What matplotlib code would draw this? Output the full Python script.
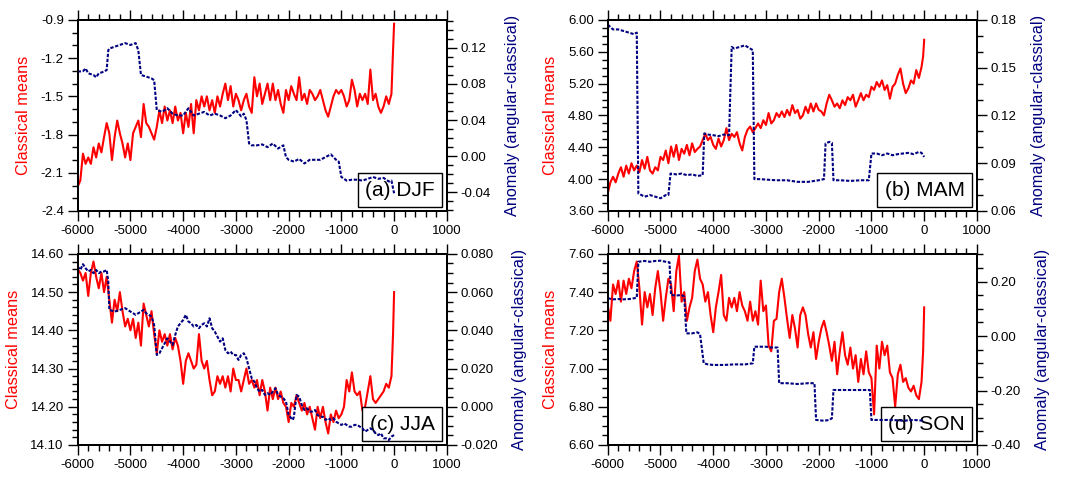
import matplotlib
matplotlib.use('Agg')
import matplotlib.pyplot as plt
import numpy as np
from matplotlib.ticker import MultipleLocator, FormatStrFormatter

plt.rcParams['font.family'] = ['Liberation Sans', 'DejaVu Sans']
plt.rcParams['axes.unicode_minus'] = False

# red "Classical means": every 50 years from -6000 to -50, then -20 and 0
red_years = list(range(-6000, -49, 50)) + [-20, 0]

djf_red = [
    -2.21, -2.16, -1.95, -2.03, -1.98, -2.03, -1.90, -1.98, -1.87, -1.94,
    -1.82, -1.71, -1.79, -2.00, -1.82, -1.69, -1.79, -1.87, -1.98, -1.87,
    -2.00, -1.79, -1.74, -1.69, -1.82, -1.56, -1.71, -1.74, -1.79, -1.84,
    -1.74, -1.61, -1.71, -1.58, -1.69, -1.61, -1.71, -1.58, -1.69, -1.63,
    -1.79, -1.63, -1.74, -1.56, -1.79, -1.53, -1.61, -1.50, -1.58, -1.50,
    -1.61, -1.53, -1.63, -1.50, -1.58, -1.48, -1.40, -1.53, -1.42, -1.58,
    -1.48, -1.53, -1.61, -1.53, -1.48, -1.58, -1.63, -1.35, -1.50, -1.40,
    -1.56, -1.48, -1.40, -1.53, -1.40, -1.53, -1.45, -1.56, -1.63, -1.45,
    -1.53, -1.42, -1.48, -1.53, -1.35, -1.53, -1.48, -1.56, -1.45, -1.48,
    -1.53, -1.50, -1.45, -1.53, -1.61, -1.66, -1.58, -1.50, -1.45, -1.48,
    -1.45, -1.50, -1.58, -1.53, -1.37, -1.45, -1.58, -1.48, -1.53, -1.48,
    -1.56, -1.29, -1.53, -1.48, -1.58, -1.63, -1.58, -1.50, -1.56, -1.48,
    -1.14, -0.93]

mam_red = [
    3.82, 3.96, 4.03, 3.96, 4.07, 4.15, 4.03, 4.17, 4.07, 4.20,
    4.11, 4.17, 4.09, 4.24, 4.13, 4.28, 4.11, 4.07, 4.15, 4.11,
    4.28, 4.24, 4.36, 4.20, 4.41, 4.28, 4.43, 4.24, 4.38, 4.32,
    4.43, 4.30, 4.45, 4.34, 4.38, 4.41, 4.49, 4.57, 4.49, 4.53,
    4.43, 4.38, 4.51, 4.41, 4.49, 4.64, 4.49, 4.57, 4.53, 4.59,
    4.45, 4.36, 4.53, 4.62, 4.66, 4.59, 4.64, 4.70, 4.64, 4.74,
    4.68, 4.83, 4.70, 4.74, 4.83, 4.78, 4.85, 4.78, 4.87, 4.80,
    4.93, 4.83, 4.87, 4.76, 4.80, 4.91, 4.83, 4.95, 4.85, 4.95,
    4.87, 4.85, 4.80, 4.95, 5.06, 4.99, 4.91, 4.95, 4.89, 4.99,
    4.93, 5.03, 4.99, 5.06, 4.91, 4.99, 5.08, 4.99, 5.06, 5.03,
    5.16, 5.12, 5.22, 5.16, 5.24, 5.12, 5.18, 5.01, 5.16, 5.20,
    5.31, 5.39, 5.20, 5.08, 5.14, 5.24, 5.20, 5.37, 5.27, 5.41,
    5.54, 5.75]

jja_red = [
    14.56, 14.55, 14.53, 14.55, 14.49, 14.55, 14.58, 14.54, 14.51, 14.55,
    14.50, 14.54, 14.48, 14.42, 14.48, 14.45, 14.50, 14.45, 14.41, 14.43,
    14.40, 14.43, 14.38, 14.42, 14.36, 14.47, 14.44, 14.41, 14.45, 14.39,
    14.34, 14.40, 14.37, 14.39, 14.36, 14.39, 14.35, 14.38, 14.36, 14.32,
    14.26, 14.32, 14.34, 14.32, 14.30, 14.31, 14.39, 14.32, 14.30, 14.32,
    14.27, 14.23, 14.24, 14.28, 14.26, 14.28, 14.25, 14.28, 14.24, 14.30,
    14.27, 14.27, 14.24, 14.27, 14.30, 14.26, 14.27, 14.25, 14.27, 14.23,
    14.27, 14.24, 14.19, 14.25, 14.22, 14.25, 14.22, 14.24, 14.21, 14.20,
    14.16, 14.21, 14.20, 14.23, 14.21, 14.19, 14.21, 14.18, 14.20, 14.17,
    14.14, 14.20, 14.17, 14.20, 14.16, 14.13, 14.18, 14.16, 14.19, 14.17,
    14.18, 14.20, 14.27, 14.24, 14.29, 14.24, 14.23, 14.24, 14.19, 14.20,
    14.24, 14.28, 14.22, 14.21, 14.22, 14.23, 14.24, 14.26, 14.25, 14.28,
    14.39, 14.50]

son_red = [
    7.33, 7.25, 7.44, 7.39, 7.46, 7.35, 7.46, 7.39, 7.47, 7.42,
    7.51, 7.56, 7.42, 7.23, 7.40, 7.32, 7.39, 7.28, 7.42, 7.51,
    7.40, 7.25, 7.37, 7.47, 7.44, 7.30, 7.51, 7.59, 7.35, 7.40,
    7.25, 7.32, 7.37, 7.51, 7.57, 7.47, 7.44, 7.35, 7.40, 7.28,
    7.19, 7.32, 7.40, 7.49, 7.28, 7.25, 7.37, 7.32, 7.37, 7.30,
    7.40, 7.33, 7.30, 7.25, 7.35, 7.25, 7.30, 7.23, 7.46, 7.30,
    7.33, 7.12, 7.09, 7.25, 7.26, 7.40, 7.47, 7.37, 7.26, 7.16,
    7.28, 7.21, 7.11, 7.28, 7.32, 7.28, 7.18, 7.11, 7.19, 7.05,
    7.14, 7.21, 7.25, 7.19, 7.12, 7.04, 7.14, 6.97, 7.09, 7.19,
    7.07, 7.02, 7.11, 7.00, 7.07, 6.93, 7.05, 6.97, 7.09, 6.98,
    6.95, 6.76, 7.12, 7.00, 7.14, 7.07, 7.12, 6.98, 6.95, 6.80,
    6.97, 7.02, 6.93, 6.95, 6.90, 6.88, 6.91, 6.86, 6.84, 6.93,
    7.09, 7.32]

# blue "Anomaly (angular-classical)"
djf_blue_years = [-6000, -5900, -5850, -5800, -5700, -5650, -5600, -5500, -5450, -5420,
                  -5400, -5300, -5200, -5100, -5000, -4900, -4850, -4800, -4700, -4600,
                  -4550, -4500, -4400, -4300, -4200, -4100, -4000, -3900, -3800, -3700,
                  -3600, -3500, -3400, -3300, -3200, -3100, -3000, -2900, -2850, -2800,
                  -2750, -2700, -2600, -2500, -2400, -2300, -2200, -2100, -2050, -2000,
                  -1900, -1800, -1700, -1600, -1500, -1400, -1300, -1200, -1100, -1050,
                  -1000, -900, -800, -700, -600, -500, -400, -300, -200, -100, -50, 0]
djf_blue = [0.0935, 0.094, 0.097, 0.0916, 0.0898, 0.0872, 0.0916, 0.0935, 0.0953, 0.117,
            0.119, 0.121, 0.123, 0.125, 0.123, 0.125, 0.117, 0.0898, 0.088, 0.086,
            0.084, 0.051, 0.049, 0.053, 0.047, 0.045, 0.045, 0.053, 0.045, 0.047,
            0.049, 0.045, 0.047, 0.045, 0.042, 0.045, 0.051, 0.044, 0.047, 0.040,
            0.014, 0.012, 0.012, 0.013, 0.010, 0.014, 0.0085, 0.012, -0.001, -0.004,
            -0.006, -0.003, -0.008, -0.004, -0.004, -0.004, -0.001, 0.002, -0.004, -0.006,
            -0.023, -0.027, -0.026, -0.026, -0.027, -0.025, -0.023, -0.025, -0.024, -0.028,
            -0.027, -0.041]

mam_blue_years = [-6000, -5900, -5800, -5700, -5600, -5500, -5450, -5420, -5300, -5200,
                  -5100, -5000, -4900, -4850, -4810, -4700, -4600, -4500, -4400, -4300,
                  -4200, -4170, -4100, -4000, -3900, -3800, -3700, -3650, -3600, -3500,
                  -3400, -3300, -3250, -3220, -3100, -3000, -2800, -2600, -2400, -2200,
                  -2000, -1900, -1870, -1800, -1750, -1720, -1600, -1400, -1200, -1050,
                  -1000, -900, -800, -700, -600, -500, -400, -300, -200, -100, -50, 0]
mam_blue = [0.177, 0.174, 0.174, 0.173, 0.172, 0.171, 0.172, 0.071, 0.069, 0.070,
            0.069, 0.068, 0.070, 0.070, 0.0835, 0.083, 0.0835, 0.0825, 0.083, 0.082,
            0.0825, 0.1087, 0.108, 0.1076, 0.107, 0.108, 0.1076, 0.163, 0.162, 0.163,
            0.164, 0.162, 0.161, 0.080, 0.080, 0.0797, 0.0793, 0.0793, 0.0783, 0.0783,
            0.0793, 0.080, 0.1024, 0.1034, 0.1028, 0.0793, 0.0793, 0.0789, 0.0793, 0.0793,
            0.0961, 0.0961, 0.095, 0.0961, 0.095, 0.0957, 0.0961, 0.0965, 0.0957, 0.0971,
            0.0965, 0.094]

jja_blue_years = [-6000, -5950, -5900, -5850, -5800, -5750, -5700, -5650, -5600, -5550,
                  -5500, -5450, -5420, -5400, -5300, -5200, -5100, -5000, -4900, -4800,
                  -4750, -4700, -4600, -4550, -4500, -4450, -4400, -4300, -4250, -4200,
                  -4150, -4100, -4050, -4000, -3950, -3900, -3850, -3800, -3750, -3700,
                  -3650, -3600, -3550, -3500, -3450, -3400, -3350, -3300, -3250, -3200,
                  -3150, -3100, -3050, -3000, -2950, -2900, -2850, -2800, -2750, -2700,
                  -2650, -2600, -2550, -2500, -2450, -2400, -2350, -2300, -2250, -2200,
                  -2150, -2100, -2050, -2000, -1950, -1920, -1900, -1850, -1800, -1750,
                  -1700, -1650, -1600, -1550, -1500, -1450, -1400, -1350, -1300, -1250,
                  -1200, -1150, -1100, -1050, -1000, -950, -900, -850, -800, -750,
                  -700, -650, -600, -550, -500, -450, -400, -350, -300, -250,
                  -200, -150, -100, -50, 0]
jja_blue = [0.0734, 0.0716, 0.0746, 0.0725, 0.0708, 0.0716, 0.0699, 0.0716, 0.0699, 0.0708,
            0.0708, 0.0716, 0.0655, 0.0507, 0.0498, 0.0507, 0.0516, 0.0498, 0.0481, 0.0498,
            0.0507, 0.0489, 0.0472, 0.0428, 0.0271, 0.0280, 0.0306, 0.0358, 0.0341, 0.0324,
            0.0376, 0.0420, 0.0437, 0.0454, 0.0481, 0.0446, 0.0437, 0.0420, 0.0428, 0.0411,
            0.0428, 0.0437, 0.0420, 0.0463, 0.0411, 0.0393, 0.0367, 0.0341, 0.0358, 0.0297,
            0.0280, 0.0289, 0.0271, 0.0271, 0.0245, 0.0271, 0.0280, 0.0254, 0.0201, 0.0149,
            0.0132, 0.0097, 0.0079, 0.0088, 0.0062, 0.0071, 0.0062, 0.0079, 0.0097, 0.0062,
            0.0053, 0.0044, 0.0027, -0.0043, -0.0060, -0.0069, -0.0052, 0.0062, 0.0053, 0.0009,
            -0.0017, -0.0008, -0.0025, -0.0025, -0.0017, -0.0043, -0.0052, -0.0052, -0.0069, -0.0060,
            -0.0069, -0.0060, -0.0078, -0.0087, -0.0095, -0.0087, -0.0095, -0.0104, -0.0104, -0.0095,
            -0.0095, -0.0104, -0.0113, -0.0130, -0.0121, -0.0113, -0.0121, -0.0139, -0.0148, -0.0139,
            -0.0165, -0.0165, -0.0174, -0.0156, -0.0148]

son_blue_years = [-6000, -5900, -5800, -5700, -5600, -5500, -5450, -5420, -5300, -5200,
                  -5100, -5000, -4900, -4830, -4800, -4700, -4600, -4550, -4510, -4400,
                  -4300, -4250, -4180, -4100, -4000, -3800, -3600, -3400, -3250, -3220,
                  -3100, -3000, -2900, -2780, -2750, -2600, -2400, -2200, -2080, -2050,
                  -1900, -1800, -1750, -1720, -1600, -1400, -1200, -1030, -1000, -800,
                  -600, -400, -200, 0]
son_blue = [0.139, 0.135, 0.136, 0.135, 0.136, 0.139, 0.141, 0.273, 0.276, 0.273,
            0.276, 0.277, 0.273, 0.271, 0.151, 0.149, 0.151, 0.145, 0.010, 0.010,
            0.014, 0.007, -0.100, -0.104, -0.106, -0.106, -0.104, -0.104, -0.100, -0.039,
            -0.039, -0.039, -0.042, -0.042, -0.173, -0.173, -0.176, -0.173, -0.173, -0.308,
            -0.311, -0.308, -0.302, -0.198, -0.198, -0.198, -0.198, -0.198, -0.308, -0.308,
            -0.308, -0.311, -0.308, -0.311]

panels = [
    # label, red, blue years, blue, left lim, left major, left minor, left fmt,
    # right lim, right major, right minor, right fmt, axes rect
    ('(a) DJF', djf_red, djf_blue_years, djf_blue, (-2.4, -0.9), 0.3, 0.1, '%.1f',
     (-0.0606, 0.1507), 0.04, 0.01, '%.2f', [0.0726, 0.5595, 0.345, 0.399]),
    ('(b) MAM', mam_red, mam_blue_years, mam_blue, (3.6, 6.0), 0.4, 0.1, '%.2f',
     (0.06, 0.18), 0.03, 0.01, '%.2f', [0.568, 0.5595, 0.345, 0.399]),
    ('(c) JJA', jja_red, jja_blue_years, jja_blue, (14.1, 14.6), 0.1, 0.02, '%.2f',
     (-0.02, 0.08), 0.02, 0.005, '%.3f', [0.0726, 0.071, 0.345, 0.399]),
    ('(d) SON', son_red, son_blue_years, son_blue, (6.6, 7.6), 0.2, 0.05, '%.2f',
     (-0.40, 0.302), 0.2, 0.05, '%.2f', [0.568, 0.071, 0.345, 0.399]),
]

fig = plt.figure(figsize=(10.7, 4.79), dpi=100)

for (label, red, byears, blue, ylim, ymaj, ymin, yfmt,
     rlim, rmaj, rmin, rfmt, rect) in panels:
    ax = fig.add_axes(rect)
    ax.plot(red_years, red, color='red', lw=1.5, zorder=2)
    ax.set_xlim(-6000, 1000)
    ax.set_ylim(*ylim)
    ax.xaxis.set_major_locator(MultipleLocator(1000))
    ax.xaxis.set_minor_locator(MultipleLocator(200))
    ax.yaxis.set_major_locator(MultipleLocator(ymaj))
    ax.yaxis.set_minor_locator(MultipleLocator(ymin))
    ax.yaxis.set_major_formatter(FormatStrFormatter(yfmt))
    ax.tick_params(which='both', direction='out', top=True, right=False, width=1,
                   labelsize=9.5, pad=3)
    ax.tick_params(which='major', length=7)
    ax.tick_params(which='minor', length=4)
    ax.set_ylabel('Classical means', color='red', fontsize=11.7, labelpad=7)
    for s in ax.spines.values():
        s.set_linewidth(1.4)

    ax.text(0.967, 0.06, label, transform=ax.transAxes, ha='right', va='bottom',
            fontsize=15, zorder=5,
            bbox=dict(boxstyle='square,pad=0.35', fc='white', ec='black', lw=1))

    ax2 = ax.twinx()
    ax2.plot(byears, blue, color='#000080', lw=1.5, ls=(0, (1.6, 0.8)))
    ax2.set_ylim(*rlim)
    ax2.yaxis.set_major_locator(MultipleLocator(rmaj))
    ax2.yaxis.set_minor_locator(MultipleLocator(rmin))
    ax2.yaxis.set_major_formatter(FormatStrFormatter(rfmt))
    ax2.tick_params(which='both', direction='out', width=1, labelsize=9.5, pad=3)
    ax2.tick_params(which='major', length=7)
    ax2.tick_params(which='minor', length=4)
    ax2.set_ylabel('Anomaly (angular-classical)', color='#000080', fontsize=11.7,
                   labelpad=10)
    for s in ax2.spines.values():
        s.set_linewidth(1.4)

fig.savefig('out.png', dpi=100)
